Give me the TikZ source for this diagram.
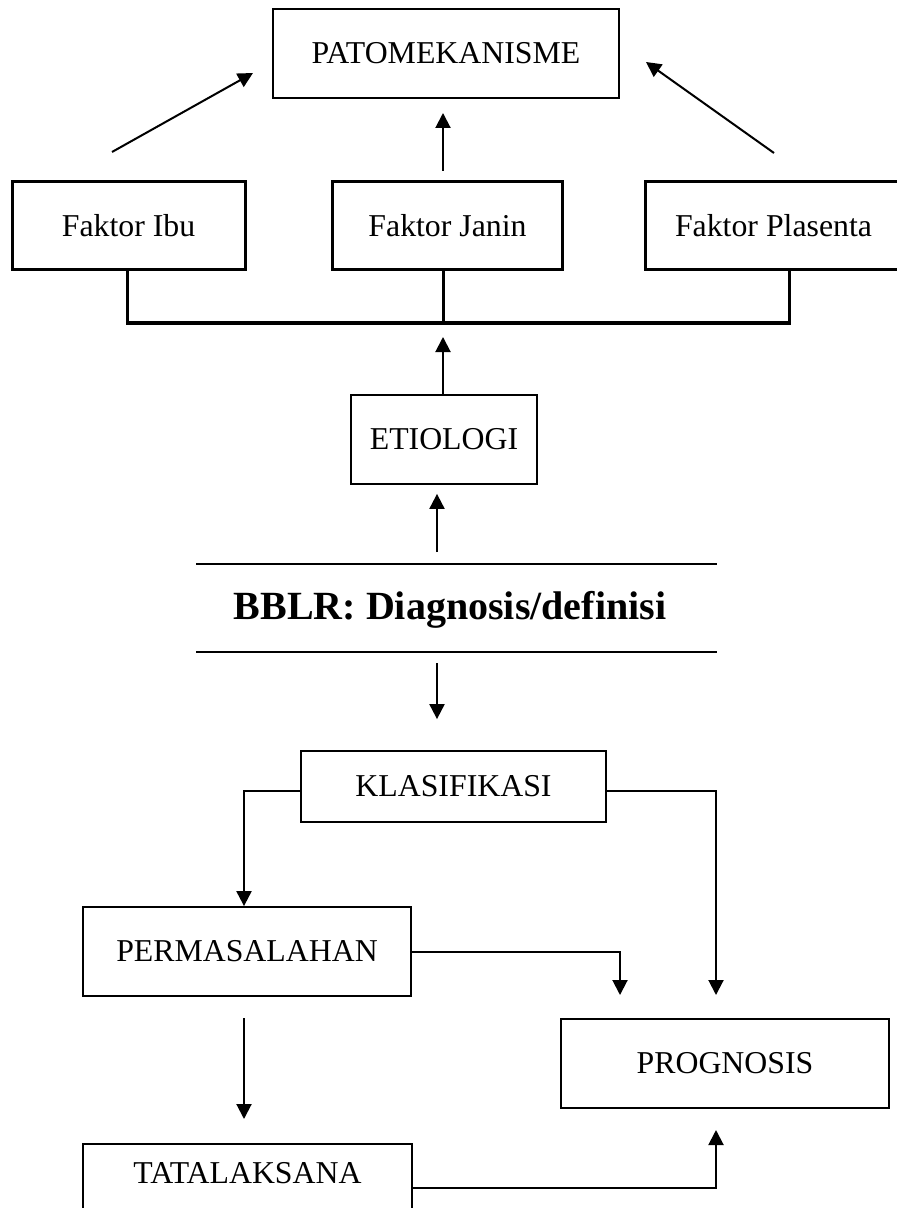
\documentclass[tikz,border=0pt]{standalone}
\usepackage{fontspec}
\setmainfont{Liberation Serif}
\usetikzlibrary{arrows.meta}

\begin{document}
\begin{tikzpicture}[x=0.5pt, y=-0.5pt, font=\fontsize{15.9}{19}\selectfont,
	box/.style={draw, line width=0.9pt, inner sep=0pt},
	thickbox/.style={draw, line width=1.5pt, inner sep=0pt},
	arr/.style={-{Triangle[length=7.5pt,width=7.5pt]}, line width=1pt}]
	\useasboundingbox (0,0) rectangle (896,1208);

	\node[box, minimum width=173pt, minimum height=44.5pt] (pato) at (446,53.5) {PATOMEKANISME};
	\node[thickbox, minimum width=116.5pt, minimum height=44pt] (ibu) at (128.5,226) {Faktor Ibu};
	\node[thickbox, minimum width=115pt, minimum height=44pt] (janin) at (447.5,226) {Faktor Janin};
	\node[thickbox, minimum width=128pt, minimum height=44pt] (plasenta) at (773.5,226) {Faktor Plasenta};
	\node[box, minimum width=93pt, minimum height=44.5pt] (etio) at (444,439.5) {ETIOLOGI};
	\node[font=\fontsize{20}{24}\selectfont\bfseries] (bblr) at (450,610) {BBLR: Diagnosis/definisi};
	\node[box, minimum width=152.5pt, minimum height=35.5pt] (klas) at (453.5,786.5) {KLASIFIKASI};
	\node[box, minimum width=164pt, minimum height=44.5pt] (perm) at (247,951.5) {PERMASALAHAN};
	\node[box, minimum width=164pt, minimum height=44.5pt] (prog) at (725,1063.5) {PROGNOSIS};
	\node[box, minimum width=164.5pt, text height=19.75pt, text depth=24.75pt, anchor=north] (tata) at (247.5,1143) {TATALAKSANA};

	\coordinate (a1s) at (112,152);
	\coordinate (a1e) at (253,73);
	\coordinate (a2s) at (443,171);
	\coordinate (a2e) at (443,113);
	\coordinate (a3s) at (774,153);
	\coordinate (a3e) at (646,62);
	\coordinate (busl) at (127,323);
	\coordinate (busm) at (443,323);
	\coordinate (busr) at (789,323);
	\coordinate (e1) at (437,552);
	\coordinate (d1) at (437,663);
	\coordinate (k1) at (244,791);
	\coordinate (t1) at (244,1018);
	\coordinate (pin1) at (716,995);
	\coordinate (pin2) at (620,995);
	\coordinate (pin3) at (716,1130);

	\draw[arr] (a1s) -- (a1e);
	\draw[arr] (a2s) -- (a2e);
	\draw[arr] (a3s) -- (a3e);

	\draw[line width=1.5pt] (ibu.south -| busl) -- (busl) -- (busr) -- (plasenta.south -| busr);
	\draw[line width=1.5pt] (janin.south -| busm) -- (busm);
	\draw[arr] (etio.north -| busm) -- ([yshift=-7pt]busm);

	\draw[line width=1pt] (196,564) -- (717,564);
	\draw[line width=1pt] (196,652) -- (717,652);
	\draw[arr] (e1) -- ([yshift=-4.5pt]etio.south -| e1);
	\draw[arr] (d1) -- ([yshift=15.5pt]klas.north -| d1);

	\draw[arr] (klas.west |- k1) -- (k1) -- (perm.north -| k1);
	\draw[arr] (klas.east |- k1) -| (pin1);
	\draw[arr] (perm.east) -| (pin2);
	\draw[arr] (t1) -- ([yshift=12pt]tata.north -| t1);
	\draw[arr] (tata.east) -| (pin3);

\end{tikzpicture}
\end{document}
